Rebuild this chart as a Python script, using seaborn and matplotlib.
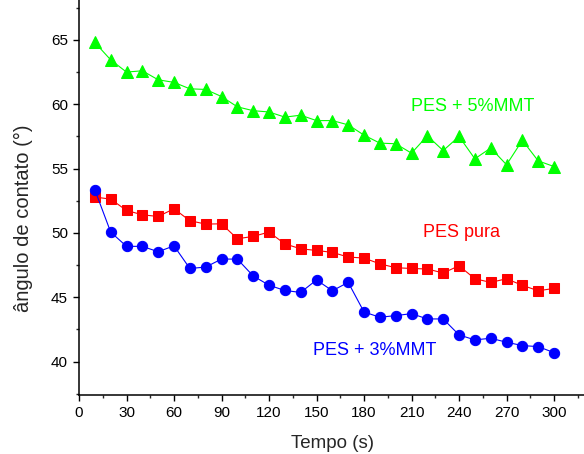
import matplotlib
matplotlib.use("Agg")
import matplotlib.pyplot as plt
from matplotlib.ticker import MultipleLocator
import seaborn as sns
import pandas as pd

tempo = [10, 20, 30, 40, 50, 60, 70, 80, 90, 100, 110, 120, 130, 140, 150,
         160, 170, 180, 190, 200, 210, 220, 230, 240, 250, 260, 270, 280, 290, 300]

pes_5mmt = [64.8, 63.45, 62.5, 62.6, 61.9, 61.7, 61.2, 61.15, 60.6, 59.8,
            59.5, 59.4, 59.0, 59.15, 58.73, 58.73, 58.4, 57.6, 56.98, 56.93,
            56.2, 57.55, 56.4, 57.5, 55.76, 56.6, 55.3, 57.2, 55.6, 55.16]

pes_pura = [52.79, 52.63, 51.75, 51.41, 51.28, 51.88, 50.95, 50.69, 50.71, 49.55,
            49.73, 50.07, 49.15, 48.77, 48.64, 48.49, 48.13, 48.05, 47.6, 47.3,
            47.24, 47.2, 46.89, 47.45, 46.44, 46.16, 46.44, 45.93, 45.51, 45.69]

pes_3mmt = [53.35, 50.07, 48.96, 48.96, 48.54, 49.0, 47.24, 47.35, 47.97, 47.97,
            46.66, 45.94, 45.53, 45.38, 46.35, 45.51, 46.16, 43.86, 43.45, 43.58,
            43.73, 43.32, 43.32, 42.08, 41.69, 41.82, 41.51, 41.25, 41.17, 40.7]

labels = ["PES + 5%MMT", "PES pura", "PES + 3%MMT"]

sns.set_style("ticks")
plt.rcParams["font.family"] = ["Liberation Sans", "DejaVu Sans"]

fig = plt.figure(figsize=(5.84, 4.54), dpi=100)
ax = fig.add_axes([79 / 584, 59 / 454, 506.7 / 584, 395 / 454])

series = [
    (pes_5mmt, "#00FF00", "^", 8.8),
    (pes_pura, "#FF0000", "s", 6.6),
    (pes_3mmt, "#0000FF", "o", 7.4),
]
for vals, col, mk, ms in series:
    df = pd.DataFrame({"t": tempo, "v": vals})
    sns.lineplot(data=df, x="t", y="v", ax=ax, color=col, marker=mk,
                 markersize=ms, markeredgecolor=col, linewidth=0.8)

text_pos = [(248.4, 59.5), (241.8, 49.67), (186.6, 40.52)]
text_col = ["#00FF00", "#FF0000", "#0000FF"]
for lab, (tx, ty), c in zip(labels, text_pos, text_col):
    ax.text(tx, ty, lab, color=c, fontsize=13, ha="center", va="baseline")

ax.set_xlim(0, 320)
ax.set_ylim(37.41, 68.1)
ax.xaxis.set_major_locator(MultipleLocator(30))
ax.xaxis.set_minor_locator(MultipleLocator(15))
ax.yaxis.set_major_locator(MultipleLocator(5))
ax.yaxis.set_minor_locator(MultipleLocator(2.5))
ax.tick_params(which="major", direction="out", length=4.5, width=1, labelsize=11, colors="black")
ax.tick_params(which="minor", direction="out", length=2.5, width=1)
ax.set_xticks([t for t in range(0, 301, 30)])

ax.set_xlabel("Tempo (s)", fontsize=13.5)
ax.set_ylabel("ângulo de contato (°)", fontsize=14.5)
ax.xaxis.set_label_coords((332 - 79) / 506.7, -(443 - 395) / 395)
ax.yaxis.set_label_coords(-(79 - 23) / 506.7, (395 - 218) / 395)
ax.xaxis.label.set_va("center")
ax.yaxis.label.set_va("center")

for s in ["top", "right"]:
    ax.spines[s].set_visible(False)
for s in ["left", "bottom"]:
    ax.spines[s].set_linewidth(1.1)
    ax.spines[s].set_color("black")

fig.savefig("out.png", dpi=100)
